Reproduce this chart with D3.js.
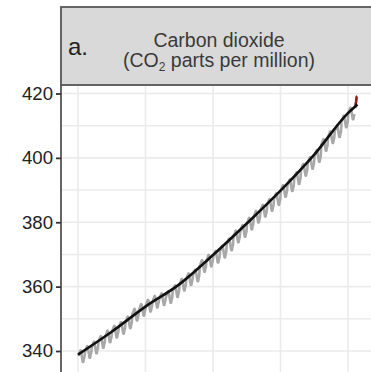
<!DOCTYPE html>
<html>
<head>
<meta charset="utf-8">
<script src="https://cdn.jsdelivr.net/npm/d3@7"></script>
<style>
  body { margin: 0; background: #fff; }
  svg { display: block; font-family: "Liberation Sans", Arial, sans-serif; }
</style>
</head>
<body>
<script>
var width = 371;
var height = 372;

// annual mean CO2 (ppm)
var years = [1980, 1981, 1982, 1983, 1984, 1985, 1986, 1987, 1988, 1989,
  1990, 1991, 1992, 1993, 1994, 1995, 1996, 1997, 1998, 1999,
  2000, 2001, 2002, 2003, 2004, 2005, 2006, 2007, 2008, 2009,
  2010, 2011, 2012, 2013, 2014, 2015, 2016, 2017, 2018, 2019,
  2020];
var annualMean = [338.8, 340.1, 341.5, 343.2, 344.9, 346.4, 347.6, 349.3, 351.7, 353.2,
  354.5, 355.7, 356.5, 357.2, 359.0, 361.0, 362.7, 363.9, 366.8, 368.5,
  369.7, 371.3, 373.5, 376.0, 377.7, 380.0, 382.1, 384.0, 385.8, 387.6,
  390.1, 391.9, 394.1, 396.7, 398.8, 401.0, 404.4, 406.8, 408.7, 411.7,
  414.2];
// monthly departure from the annual mean as it shows in the grey line (Jan..Dec)
var seasonal = [-0.3, 0.1, 0.5, 1.1, 1.4, 1.0, -0.1, -1.2, -2.2, -2.2, -1.2, -0.6];
// latest months, drawn in red
var recentMonths = [2021.04, 2021.13, 2021.21, 2021.29, 2021.38];
var recentValues = [415.5, 416.7, 417.6, 419.0, 419.1];
// smoothed trend (black)
var trendYears = [1980, 1985, 1990, 1995, 2000, 2005, 2010, 2015, 2020, 2021.4];
var trendValues = [338.9, 346.0, 353.8, 360.7, 369.8, 379.6, 389.8, 401.0, 413.9, 416.6];

var yTicks = [340, 360, 380, 400, 420];
var yGrid = [340, 350, 360, 370, 380, 390, 400, 410, 420];
var xGrid = [1980, 1990, 2000, 2010, 2020];

var x = d3.scaleLinear().domain([1980, 2020]).range([78, 348]);
var y = d3.scaleLinear().domain([340, 420]).range([351, 93.5]);

var svg = d3.select('body').append('svg')
  .attr('width', width)
  .attr('height', height);

var panelLeft = 61;
var panelTop = 86;

// grid
svg.append('g').selectAll('line')
  .data(yGrid)
  .enter().append('line')
  .attr('x1', panelLeft).attr('x2', width + 10)
  .attr('y1', function (d) { return y(d); })
  .attr('y2', function (d) { return y(d); })
  .attr('stroke', '#ebebeb')
  .attr('stroke-width', 1.6);

svg.append('g').selectAll('line')
  .data(xGrid)
  .enter().append('line')
  .attr('y1', panelTop).attr('y2', height + 10)
  .attr('x1', function (d) { return x(d); })
  .attr('x2', function (d) { return x(d); })
  .attr('stroke', '#ebebeb')
  .attr('stroke-width', 1.6);

// monthly series (grey) built from the annual means plus the seasonal departures
var monthly = [];
years.forEach(function (yr, i) {
  seasonal.forEach(function (s, m) {
    monthly.push([yr + (m + 0.5) / 12, annualMean[i] + s]);
  });
});

var line = d3.line()
  .x(function (d) { return x(d[0]); })
  .y(function (d) { return y(d[1]); });

svg.append('path')
  .datum(monthly)
  .attr('d', line)
  .attr('fill', 'none')
  .attr('stroke', '#a8a8a8')
  .attr('stroke-width', 2.6)
  .attr('stroke-linejoin', 'round');

svg.append('path')
  .datum(recentMonths.map(function (d, i) { return [d, recentValues[i]]; }))
  .attr('d', line)
  .attr('fill', 'none')
  .attr('stroke', '#8b1a1a')
  .attr('stroke-width', 2.6)
  .attr('stroke-linejoin', 'round');

// trend line
svg.append('path')
  .datum(trendYears.map(function (d, i) { return [d, trendValues[i]]; }))
  .attr('d', d3.line()
    .x(function (d) { return x(d[0]); })
    .y(function (d) { return y(d[1]); })
    .curve(d3.curveMonotoneX))
  .attr('fill', 'none')
  .attr('stroke', '#111')
  .attr('stroke-width', 2.6);

// panel left border
svg.append('line')
  .attr('x1', panelLeft).attr('x2', panelLeft)
  .attr('y1', panelTop - 1).attr('y2', height + 10)
  .attr('stroke', '#555')
  .attr('stroke-width', 1.8);

// y axis
var yAxis = svg.append('g')
  .attr('transform', 'translate(' + panelLeft + ',0)')
  .call(d3.axisLeft(y).tickValues(yTicks).tickSize(5).tickPadding(3));
yAxis.select('.domain').remove();
yAxis.selectAll('.tick line').attr('stroke', '#333').attr('stroke-width', 1.8);
yAxis.selectAll('.tick text')
  .attr('fill', '#222')
  .style('font-size', '18.6px')
  .style('font-family', '"Liberation Sans", Arial, sans-serif');

// strip
svg.append('rect')
  .attr('x', panelLeft)
  .attr('y', 7)
  .attr('width', width - panelLeft + 10)
  .attr('height', panelTop - 8)
  .attr('fill', '#d9d9d9')
  .attr('stroke', '#555')
  .attr('stroke-width', 1.8);

svg.append('text')
  .attr('x', 68)
  .attr('y', 55)
  .attr('font-size', 24)
  .attr('fill', '#222')
  .text('a.');

svg.append('text')
  .attr('x', 219)
  .attr('y', 47)
  .attr('text-anchor', 'middle')
  .attr('font-size', 19.5)
  .attr('fill', '#3a3a3a')
  .text('Carbon dioxide');

var sub = svg.append('text')
  .attr('x', 219)
  .attr('y', 67)
  .attr('text-anchor', 'middle')
  .attr('font-size', 19.5)
  .attr('fill', '#3a3a3a');
sub.append('tspan').text('(CO');
sub.append('tspan').attr('font-size', 12).attr('dy', 4).text('2');
sub.append('tspan').attr('dy', -4).text(' parts per million)');
</script>
</body>
</html>
